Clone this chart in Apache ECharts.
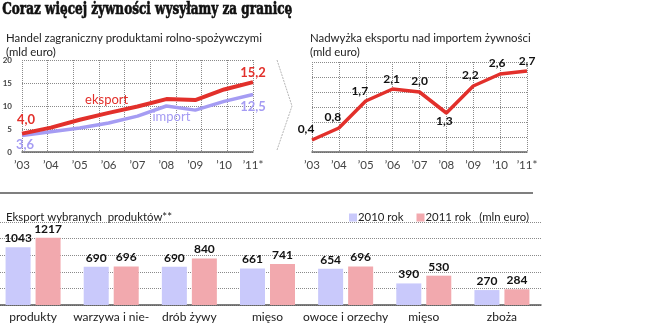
<!DOCTYPE html>
<html>
<head>
<meta charset="utf-8">
<script src="https://cdn.jsdelivr.net/npm/echarts@6/dist/echarts.min.js"></script>
<style>
  html, body { margin: 0; padding: 0; background: #fff; overflow: hidden; }
  /* przesunięte o 6px w lewo, żeby pierwszy słupek zaczynał się przy krawędzi */
  #chart { position: absolute; left: -6px; top: 0; width: 663px; height: 323px; }
</style>
</head>
<body>
<div id="chart"></div>
<script>
// lata (wspólne dla obu wykresów liniowych)
const years = ['’03', '’04', '’05', '’06', '’07', '’08', '’09', '’10', '’11*'];

// handel zagraniczny, mld euro
const eksport = [4.0, 5.3, 7.0, 8.5, 9.9, 11.5, 11.3, 13.6, 15.2];
const importVals = [3.6, 4.4, 5.2, 6.3, 7.8, 10.0, 9.1, 11.0, 12.5];

// nadwyżka eksportu nad importem, mld euro
const nadwyzka = [0.4, 0.8, 1.7, 2.1, 2.0, 1.3, 2.2, 2.6, 2.7];

// eksport wybranych produktów, mln euro
const produkty = ['produkty', 'warzywa i nie-', 'drób żywy', 'mięso', 'owoce i orzechy', 'mięso', 'zboża'];
const rok2010 = [1043, 690, 690, 661, 654, 390, 270];
const rok2011 = [1217, 696, 840, 741, 696, 530, 284];

const RED = '#e2302b';
const PURPLE = '#a59cf3';
const BAR10 = '#c9c9fb';
const BAR11 = '#f2a9ae';
const DOT = { type: 'dotted', color: '#8a8a8a', width: 1 };
const SANS = "Lato, 'Open Sans', sans-serif";
const X0 = 6; // przesunięcie kontenera

const TITLE = 'Coraz więcej żywności wysyłamy za granicę';
const TITLE_FONT = "bold 17px 'DejaVu Serif', serif";

// tytuł ściśnięty do szerokości z oryginału
const measure = document.createElement('canvas').getContext('2d');
measure.font = TITLE_FONT;
const titleScale = 290 / measure.measureText(TITLE).width;

const fmt = v => String(v.toFixed(1)).replace('.', ',');

// etykiety tylko przy wybranych punktach
const eksportData = eksport.map((v, i) => {
  let label = { show: false };
  if (i === 0) label = { show: true, position: 'top', offset: [4, -2], formatter: fmt(v) };
  if (i === 3) label = { show: true, position: 'top', offset: [-2, -2], formatter: 'eksport',
    fontWeight: 'normal', fontSize: 13 };
  if (i === eksport.length - 1) label = { show: true, position: 'top', offset: [0, 2], formatter: fmt(v) };
  return { value: v, label };
});
const importData = importVals.map((v, i) => {
  let label = { show: false };
  if (i === 0) label = { show: true, position: 'bottom', offset: [3, -2], formatter: fmt(v) };
  if (i === 5) label = { show: true, position: 'bottom', offset: [5, -1], formatter: 'import',
    fontWeight: 'normal', fontSize: 13 };
  if (i === importVals.length - 1) label = { show: true, position: 'bottom', offset: [0, 1], formatter: fmt(v) };
  return { value: v, label };
});
const nadwyzkaOffsets = [[-6, 0], [-6, 0], [-6, 1], [-1, 1], [0, 0], [-2, -3], [-3, 0], [-3, 0], [0, 1]];
const nadwyzkaData = nadwyzka.map((v, i) => ({
  value: v,
  label: {
    show: true,
    position: i === 5 ? 'bottom' : 'top',
    offset: nadwyzkaOffsets[i],
    formatter: fmt(v)
  }
}));

const chart = echarts.init(document.getElementById('chart'), null, { renderer: 'canvas' });

const subStyle = { fontSize: 11.4, fontWeight: 'normal', color: '#222', lineHeight: 14, fontFamily: SANS };

chart.setOption({
  animation: false,
  textStyle: { fontFamily: SANS },
  title: [
    { text: 'Handel zagraniczny produktami rolno-spożywczymi\n(mld euro)', left: 1 + X0, top: 26, textStyle: subStyle },
    { text: 'Nadwyżka eksportu nad importem żywności\n(mld euro)', left: 305 + X0, top: 26, textStyle: subStyle },
    { text: 'Eksport wybranych  produktów**', left: 1 + X0, top: 205, textStyle: subStyle },
    { text: '(mln euro)', right: 123, top: 205, textStyle: subStyle }
  ],
  legend: {
    data: ['2010 rok', '2011 rok'],
    left: 344 + X0, top: 207,
    icon: 'rect', itemWidth: 8, itemHeight: 8, itemGap: 13,
    textStyle: { fontSize: 11.4, color: '#222', fontFamily: SANS, padding: [0, 0, 0, -4] }
  },
  graphic: [
    { type: 'text', left: 2 + X0, top: 1, scaleX: titleScale, originX: 0,
      style: { text: TITLE, fill: '#111', font: TITLE_FONT, stroke: '#111', lineWidth: 0.7 } },
    { type: 'polyline', shape: { points: [[277 + X0, 60], [292 + X0, 106], [277 + X0, 150]] },
      style: { stroke: '#b5b5b5', lineWidth: 1, lineDash: [2, 1], fill: null } },
    { type: 'line', shape: { x1: X0, y1: 193, x2: 533 + X0, y2: 193 },
      style: { stroke: '#555', lineWidth: 1.5 } }
  ],
  grid: [
    { left: 22 + X0, right: 404, top: 60, bottom: 171 },
    { left: 312 + X0, right: 130, top: 62, bottom: 171 },
    { left: 0, right: 116, top: 222, bottom: 15 }
  ],
  xAxis: [
    { type: 'category', gridIndex: 0, data: years, boundaryGap: false,
      axisLine: { lineStyle: { color: '#666', width: 1.5 } }, axisTick: { show: false },
      axisLabel: { fontSize: 11.5, color: '#444', margin: 7, interval: 0 }, splitLine: { show: false } },
    // pionowe kropkowane linie w tle lewego wykresu
    { type: 'value', gridIndex: 0, min: 0, max: 9, interval: 1, show: true,
      axisLine: { show: false }, axisTick: { show: false }, axisLabel: { show: false },
      splitLine: { show: true, lineStyle: DOT } },
    { type: 'category', gridIndex: 1, data: years, boundaryGap: false,
      axisLine: { lineStyle: { color: '#666', width: 1.5 } }, axisTick: { show: false },
      axisLabel: { fontSize: 11.5, color: '#444', margin: 7, interval: 0 },
      splitLine: { show: true, interval: 0, lineStyle: DOT } },
    { type: 'category', gridIndex: 2, data: produkty,
      axisLine: { lineStyle: { color: '#555', width: 1.5 } }, axisTick: { show: false },
      axisLabel: { fontSize: 12, color: '#222', margin: 6, interval: 0 } }
  ],
  yAxis: [
    { type: 'value', gridIndex: 0, min: 0, max: 20, interval: 5,
      axisLine: { show: false }, axisTick: { show: false },
      axisLabel: { fontSize: 8, fontWeight: 'bold', color: '#444', margin: 10 },
      splitLine: { lineStyle: DOT } },
    { type: 'value', gridIndex: 1, min: 0, max: 3, interval: 0.5,
      axisLine: { show: false }, axisTick: { show: false }, axisLabel: { show: false },
      splitLine: { lineStyle: DOT } },
    { type: 'value', gridIndex: 2, min: 0, max: 1500, interval: 300,
      axisLine: { show: false }, axisTick: { show: false }, axisLabel: { show: false },
      splitLine: { lineStyle: DOT } }
  ],
  series: [
    { name: 'import', type: 'line', xAxisIndex: 0, yAxisIndex: 0, data: importData,
      symbol: 'circle', symbolSize: 0, showSymbol: true,
      lineStyle: { color: PURPLE, width: 3.5 }, itemStyle: { color: PURPLE },
      label: { color: PURPLE, fontWeight: 'bold', fontSize: 13, fontFamily: SANS } },
    { name: 'eksport', type: 'line', xAxisIndex: 0, yAxisIndex: 0, data: eksportData,
      symbol: 'circle', symbolSize: 0, showSymbol: true,
      lineStyle: { color: RED, width: 4 }, itemStyle: { color: RED },
      label: { color: RED, fontWeight: 'bold', fontSize: 13, fontFamily: SANS } },
    { name: 'nadwyżka', type: 'line', xAxisIndex: 2, yAxisIndex: 1, data: nadwyzkaData,
      symbol: 'circle', symbolSize: 0, showSymbol: true,
      lineStyle: { color: RED, width: 3.5 }, itemStyle: { color: RED },
      label: { color: '#111', fontWeight: 'bold', fontSize: 12, fontFamily: SANS } },
    { name: '2010 rok', type: 'bar', xAxisIndex: 3, yAxisIndex: 2, data: rok2010,
      barWidth: 25, barGap: '20%', itemStyle: { color: BAR10 },
      label: { show: true, position: 'top', distance: 3, color: '#111', fontWeight: 'bold', fontSize: 12 } },
    { name: '2011 rok', type: 'bar', xAxisIndex: 3, yAxisIndex: 2, data: rok2011,
      barWidth: 25, itemStyle: { color: BAR11 },
      label: { show: true, position: 'top', distance: 3, color: '#111', fontWeight: 'bold', fontSize: 12 } }
  ]
});
</script>
</body>
</html>
